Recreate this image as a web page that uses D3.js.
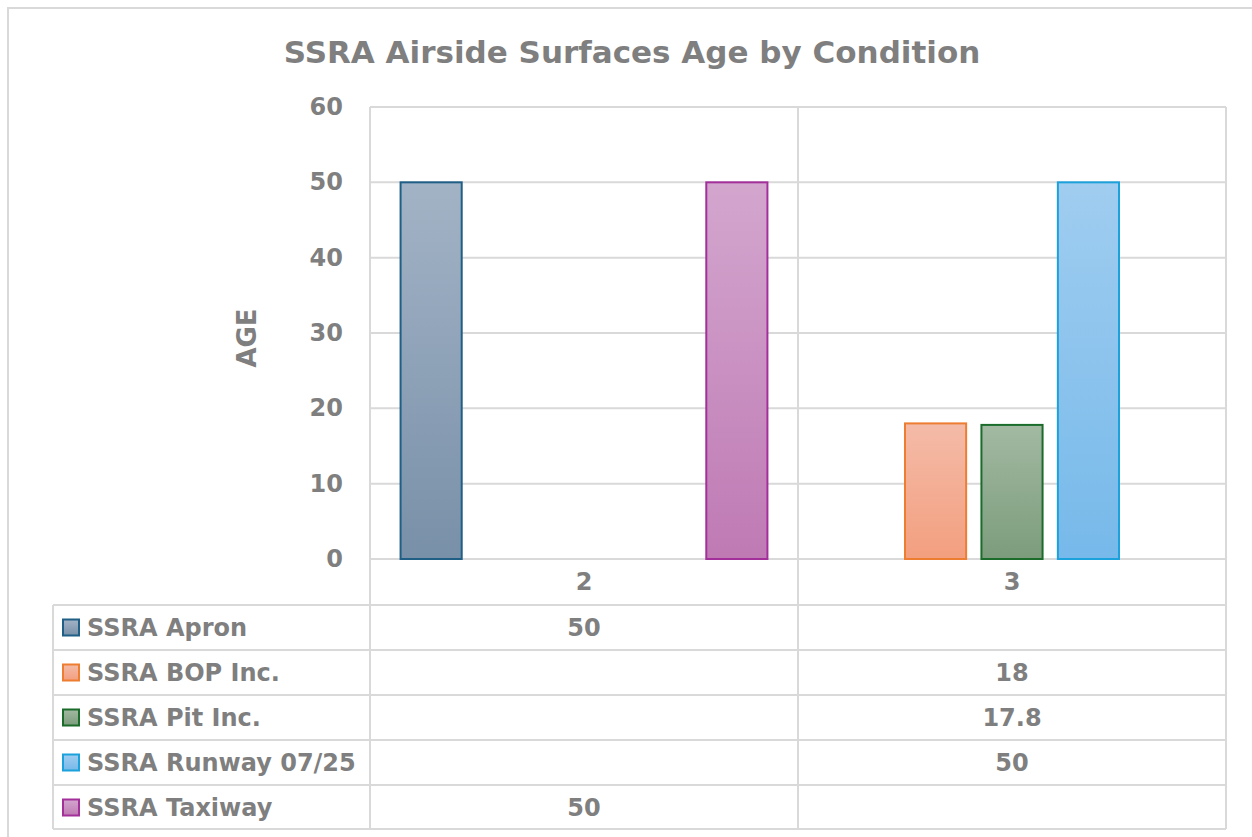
<!DOCTYPE html>
<html>
<head>
<meta charset="utf-8">
<script src="https://cdn.jsdelivr.net/npm/d3@7"></script>
<style>
  html, body { margin: 0; padding: 0; background: #fff; }
  svg { display: block; }
  text { font-family: "DejaVu Sans", "Noto Sans", sans-serif; font-weight: bold; fill: #7f7f7f; }
</style>
</head>
<body>
<svg id="chart" width="1252" height="837"></svg>
<script>
// Chart data
const categories = ["2", "3"];
const seriesNames = ["SSRA Apron", "SSRA BOP Inc.", "SSRA Pit Inc.", "SSRA Runway 07/25", "SSRA Taxiway"];
// one value per category (null = no value)
const apron   = [50, null];
const bopInc  = [null, 18];
const pitInc  = [null, 17.8];
const runway  = [null, 50];
const taxiway = [50, null];
const yTicks = [0, 10, 20, 30, 40, 50, 60];
const titleText = "SSRA Airside Surfaces Age by Condition";
const yLabel = "AGE";

const seriesValues = [apron, bopInc, pitInc, runway, taxiway];

// Fill gradients (top, bottom) and outline colours per series
const fills = [
  ["#a3b3c6", "#7890a8"],
  ["#f4bba8", "#f39f7f"],
  ["#a2b9a2", "#7c9c7c"],
  ["#a0cdf0", "#76b9ea"],
  ["#d3a6ce", "#bf7ab4"]
];
const strokes = ["#1f5f86", "#ed7d31", "#1b6b2b", "#1ba1db", "#a3309a"];

const svg = d3.select("#chart");
const gridColor = "#d9d9d9";

// Outer chart frame
svg.append("path")
  .attr("d", "M8,837 L8,8 L1252,8")
  .attr("fill", "none").attr("stroke", gridColor).attr("stroke-width", 2);

// Layout
const plotLeft = 370, plotRight = 1226, plotTop = 107, plotBottom = 559;
const tableLeft = 53, rowH = 45, headerBottom = 605;

const x = d3.scaleBand().domain(categories).range([plotLeft, plotRight]).padding(0);
const xs = d3.scaleBand().domain(seriesNames).range([0, x.bandwidth()])
  .paddingInner(0.2).paddingOuter(0.4);
const y = d3.scaleLinear().domain([0, 60]).range([plotBottom, plotTop]);

// Gradients
const defs = svg.append("defs");
fills.forEach((f, i) => {
  const g = defs.append("linearGradient").attr("id", "grad" + i)
    .attr("x1", 0).attr("y1", 0).attr("x2", 0).attr("y2", 1);
  g.append("stop").attr("offset", "0%").attr("stop-color", f[0]);
  g.append("stop").attr("offset", "100%").attr("stop-color", f[1]);
});

// Horizontal gridlines
svg.append("g").selectAll("line").data(yTicks).join("line")
  .attr("x1", plotLeft).attr("x2", plotRight)
  .attr("y1", d => y(d)).attr("y2", d => y(d))
  .attr("stroke", gridColor).attr("stroke-width", 2);

// Y axis tick labels
svg.append("g").selectAll("text").data(yTicks).join("text")
  .attr("x", 343).attr("y", d => y(d))
  .attr("text-anchor", "end").attr("dominant-baseline", "central")
  .attr("font-size", 24)
  .text(d => d);

// Y axis title
svg.append("text")
  .attr("transform", `translate(247,338) rotate(-90)`)
  .attr("text-anchor", "middle").attr("dominant-baseline", "central")
  .attr("font-size", 26)
  .text(yLabel);

// Chart title
svg.append("text")
  .attr("x", 632).attr("y", 52)
  .attr("text-anchor", "middle").attr("dominant-baseline", "central")
  .attr("font-size", 31)
  .text(titleText);

// Data table grid
const tableBottom = headerBottom + rowH * seriesNames.length - 1;
const tg = svg.append("g").attr("stroke", gridColor).attr("stroke-width", 2).attr("fill", "none");
// vertical lines at plot edges and category boundaries
const vx = [plotLeft].concat(categories.map(c => x(c) + x.bandwidth()));
vx.forEach(v => tg.append("line").attr("x1", v).attr("x2", v).attr("y1", plotTop).attr("y2", tableBottom));
tg.append("line").attr("x1", tableLeft).attr("x2", tableLeft).attr("y1", headerBottom).attr("y2", tableBottom);
d3.range(seriesNames.length + 1).forEach(i => {
  const yy = headerBottom + i * rowH - (i === seriesNames.length ? 1 : 0);
  tg.append("line").attr("x1", tableLeft).attr("x2", plotRight).attr("y1", yy).attr("y2", yy);
});

// Bars
const barG = svg.append("g");
seriesNames.forEach((name, si) => {
  const data = categories.map((c, ci) => ({ c, v: seriesValues[si][ci] })).filter(d => d.v != null);
  barG.selectAll(null).data(data).join("rect")
    .attr("x", d => x(d.c) + xs(name))
    .attr("y", d => y(d.v))
    .attr("width", xs.bandwidth())
    .attr("height", d => y(0) - y(d.v))
    .attr("fill", `url(#grad${si})`)
    .attr("stroke", strokes[si]).attr("stroke-width", 2);
});

// Category labels (table header)
svg.append("g").selectAll("text").data(categories).join("text")
  .attr("x", d => x(d) + x.bandwidth() / 2).attr("y", 582)
  .attr("text-anchor", "middle").attr("dominant-baseline", "central")
  .attr("font-size", 24)
  .text(d => d);

// Table rows: legend key, series name and values
seriesNames.forEach((name, si) => {
  const cy = headerBottom + si * rowH + rowH / 2;
  svg.append("rect")
    .attr("x", 63).attr("y", cy - 8).attr("width", 16).attr("height", 16)
    .attr("fill", `url(#grad${si})`).attr("stroke", strokes[si]).attr("stroke-width", 2);
  svg.append("text")
    .attr("x", 87).attr("y", cy)
    .attr("dominant-baseline", "central").attr("font-size", 24)
    .text(name);
  categories.forEach((c, ci) => {
    const v = seriesValues[si][ci];
    if (v == null) return;
    svg.append("text")
      .attr("x", x(c) + x.bandwidth() / 2).attr("y", cy)
      .attr("text-anchor", "middle").attr("dominant-baseline", "central")
      .attr("font-size", 24)
      .text(v);
  });
});
</script>
</body>
</html>
